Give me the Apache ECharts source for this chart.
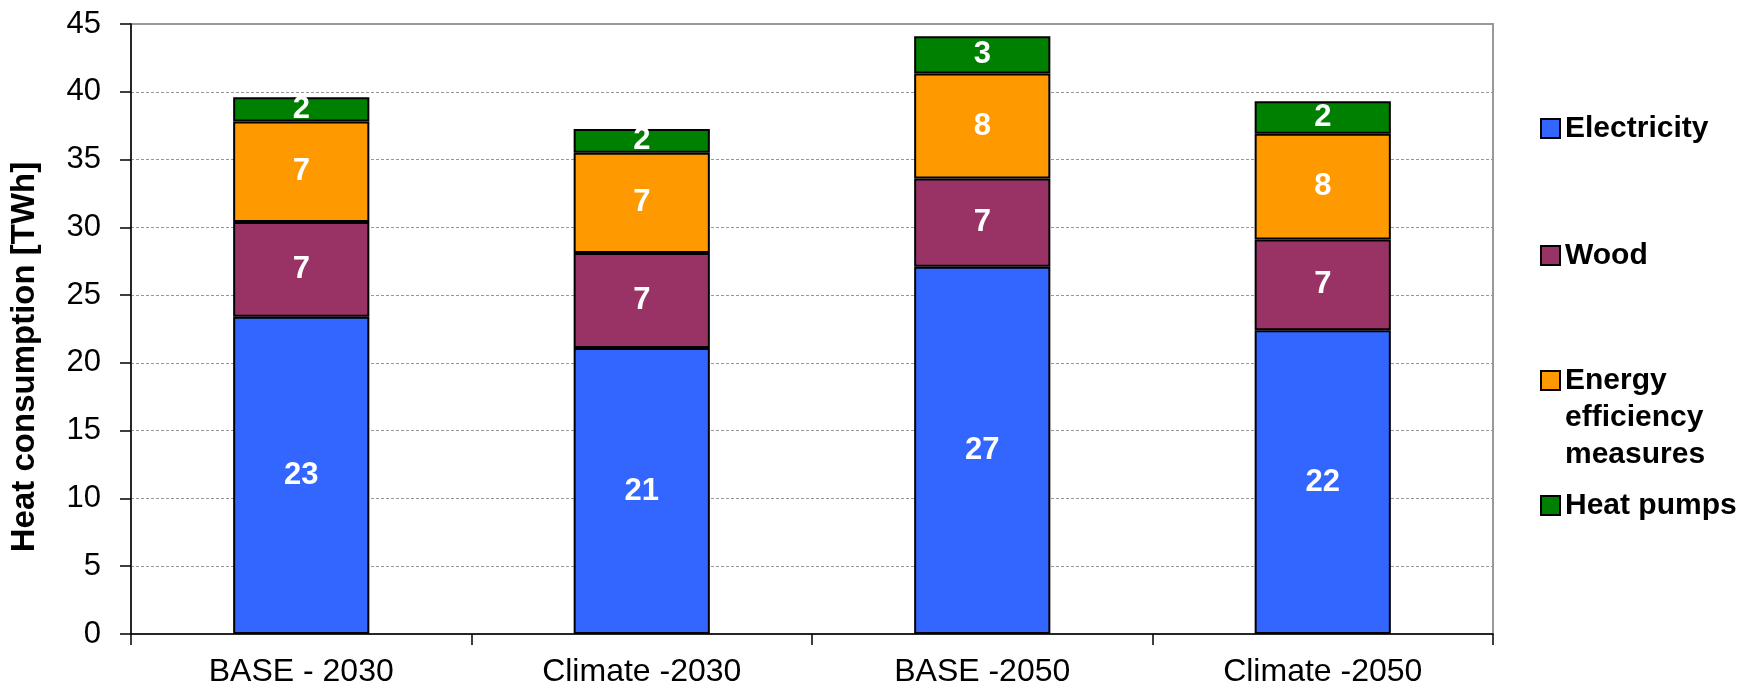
<!DOCTYPE html>
<html>
<head>
<meta charset="utf-8">
<script src="https://cdn.jsdelivr.net/npm/echarts@6/dist/echarts.min.js"></script>
<style>
  html, body { margin: 0; padding: 0; background: #fff; }
  #chart { width: 1756px; height: 691px; }
</style>
</head>
<body>
<div id="chart"></div>
<script>
// Scenarios on the x axis
const categories = ['BASE - 2030', 'Climate -2030', 'BASE -2050', 'Climate -2050'];

// Heat consumption per source, TWh
const electricity = [23.4, 21.1, 27.1, 22.4];
const wood = [7.0, 7.0, 6.5, 6.7];
const efficiency = [7.4, 7.4, 7.75, 7.8];
const heatPumps = [1.8, 1.75, 2.75, 2.4];

const seriesNames = ['Electricity', 'Wood', 'Energy efficiency measures', 'Heat pumps'];
const seriesColors = ['#3366FF', '#993366', '#FF9900', '#008000'];
const seriesData = [electricity, wood, efficiency, heatPumps];

// Y axis range
const yMin = 0, yMax = 45, yStep = 5;

const FONT = '"Liberation Sans", Arial, sans-serif';

const chart = echarts.init(document.getElementById('chart'), null, { renderer: 'canvas' });

const series = seriesNames.map((name, i) => ({
  name,
  type: 'bar',
  stack: 'total',
  barWidth: '40%',
  data: seriesData[i],
  itemStyle: { color: seriesColors[i], borderColor: '#000', borderWidth: 2 },
  label: {
    show: true,
    position: 'inside',
    color: '#fff',
    fontFamily: FONT,
    fontWeight: 'bold',
    fontSize: 31,
    formatter: p => Math.round(p.value)
  },
  emphasis: { disabled: true }
}));

// Legend entries, placed one by one on the right.
// The three-line entry gets two blank lines on top so its first line sits beside the swatch.
const legendTops = [110, 237, 288, 487];
const legendText = n => n === 'Energy efficiency measures'
  ? ' \n \nEnergy\nefficiency\nmeasures'
  : n;
const legends = seriesNames.map((name, i) => ({
  data: [name],
  orient: 'vertical',
  left: 1540,
  top: legendTops[i],
  padding: 0,
  itemWidth: 19,
  itemHeight: 19,
  icon: 'rect',
  itemStyle: { borderColor: '#000', borderWidth: 2 },
  selectedMode: false,
  formatter: legendText,
  textStyle: {
    fontFamily: FONT,
    fontWeight: 'bold',
    fontSize: 30,
    color: '#000',
    lineHeight: 37
  }
}));

chart.setOption({
  animation: false,
  backgroundColor: '#fff',
  grid: {
    left: 131, right: 263, top: 24, bottom: 57,
    show: true, borderColor: '#999', borderWidth: 2, backgroundColor: 'transparent'
  },
  legend: legends,
  xAxis: {
    type: 'category',
    data: categories,
    axisLine: { lineStyle: { color: '#000', width: 1.5 } },
    axisTick: { show: true, length: 11, lineStyle: { color: '#000', width: 1.5 } },
    axisLabel: { color: '#000', fontFamily: FONT, fontSize: 32, margin: 22 }
  },
  yAxis: {
    type: 'value',
    min: yMin, max: yMax, interval: yStep,
    name: 'Heat consumption [TWh]',
    nameLocation: 'middle',
    nameRotate: 90,
    nameGap: 90,
    nameTextStyle: {
      color: '#000', fontFamily: FONT, fontWeight: 'bold', fontSize: 33,
      padding: [0, 56, 0, 0]
    },
    axisLine: { show: true, lineStyle: { color: '#000', width: 1.5 } },
    axisTick: { show: true, length: 11, lineStyle: { color: '#000', width: 1.5 } },
    axisLabel: { color: '#000', fontFamily: FONT, fontSize: 31, margin: 30 },
    splitLine: { lineStyle: { color: '#999', width: 1, type: [3, 2] } }
  },
  series
});
</script>
</body>
</html>
